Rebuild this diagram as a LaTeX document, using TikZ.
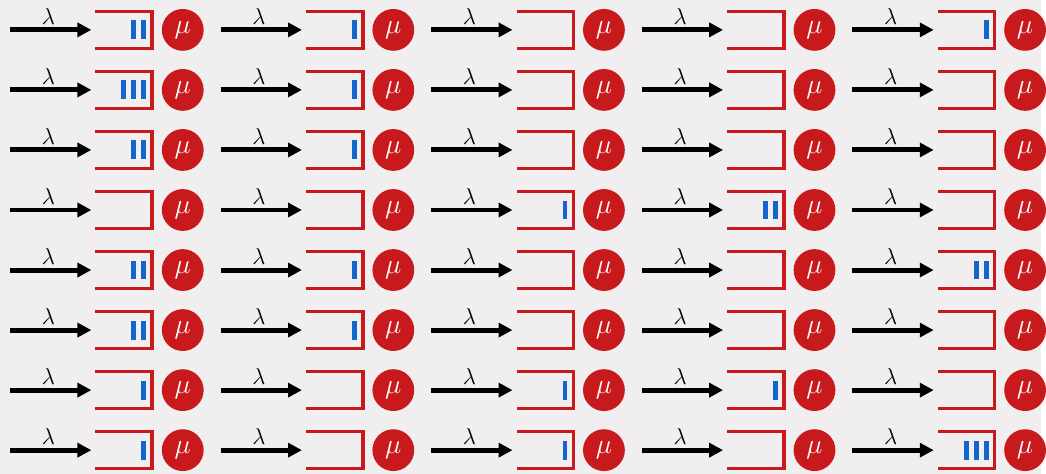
\documentclass[tikz,border=0pt]{standalone}
\usepackage{tikz}
\usetikzlibrary{positioning,arrows.meta,calc}
\definecolor{qred}{RGB}{200,26,28}
\definecolor{qblue}{RGB}{18,102,204}
\definecolor{bggray}{RGB}{240,238,238}
\tikzset{
  arr/.style={-{Triangle[length=10.5pt,width=10.5pt]},line width=3.75pt,shorten >=3pt},
  buf/.style={inner sep=0pt,minimum width=42.5pt,minimum height=27.5pt},
  bufline/.style={draw=qred,line width=2.7pt},
  srv/.style={circle,fill=qred,text=white,inner sep=0pt,minimum size=31.5pt,font=\huge},
  cust/.style={fill=qblue},
  lam/.style={above,pos=0.45,inner sep=2.5pt,font=\LARGE},
}
\begin{document}
\begin{tikzpicture}[x=0.75pt,y=-0.75pt]
  \fill[bggray] (0,0) rectangle (1046,476);
  % one row per line, number of customers waiting in each queue
  \foreach \counts [count=\ri] in {{2,1,0,0,1},{3,1,0,0,0},{2,1,0,0,0},{0,0,1,2,0},
                                   {2,1,0,0,2},{2,1,0,0,0},{1,0,1,1,0},{1,0,1,0,3}}{
    \foreach \n [count=\ci] in \counts {
      \coordinate (src-\ri-\ci) at ({10+211.5*(\ci-1)},{30+60.3*(\ri-1)});
      \node[buf] (q-\ri-\ci) at ({124.35+211.5*(\ci-1)},{30+60.3*(\ri-1)}) {};
      \draw[bufline] (q-\ri-\ci.north west) -- (q-\ri-\ci.north east)
        -- (q-\ri-\ci.south east) -- (q-\ri-\ci.south west);
      \node[srv,right=7pt of q-\ri-\ci] (s-\ri-\ci) {$\mu$};
      \draw[arr] (src-\ri-\ci) -- node[lam] {$\lambda$} (q-\ri-\ci);
      \ifnum\n>0
        \foreach \k in {1,...,\n}
          \fill[cust] ($(q-\ri-\ci.east)+({-6-10*(\k-1)},-9.5)$) rectangle +(-5,19);
      \fi
    }
  }
\end{tikzpicture}
\end{document}
